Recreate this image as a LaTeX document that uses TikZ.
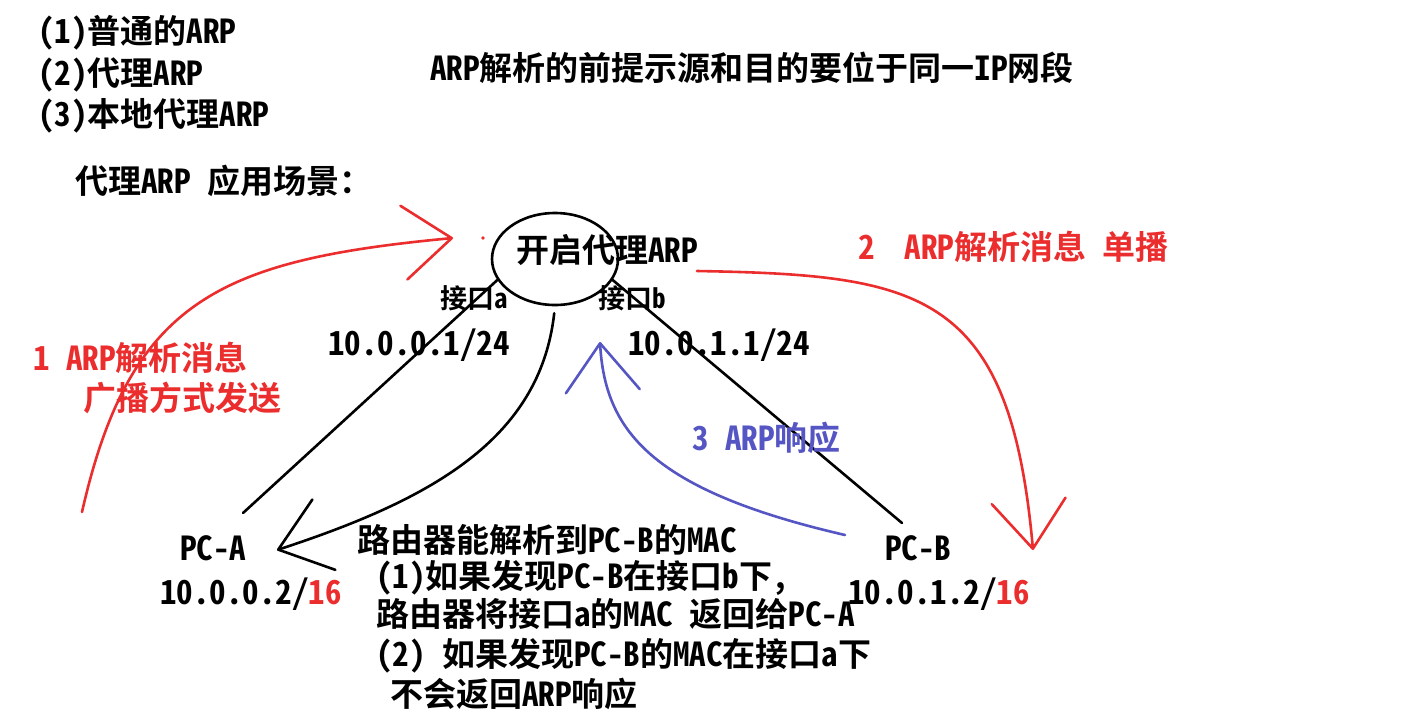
\documentclass[tikz,border=0pt]{standalone}
\usepackage{fontspec}
\setmainfont{Noto Sans CJK SC}[BoldFont={* Bold}, RawFeature=+hwid]
\usetikzlibrary{arrows.meta,shapes.geometric}
\definecolor{arpred}{RGB}{235,45,45}
\definecolor{arpblue}{RGB}{85,85,195}

\begin{document}
\begin{tikzpicture}[
    x=1pt,
    y=-1pt,
    txt/.style={anchor=west, inner sep=0pt, font=\fontsize{33}{38}\selectfont\bfseries},
    small/.style={anchor=west, inner sep=0pt, font=\fontsize{27}{32}\selectfont\bfseries},
    link/.style={line width=2.6pt, line cap=round},
    barb/.style={-{Straight Barb[length=48pt,width=74pt,round]}}
]
\fill[white] (0,0) rectangle (1404,726);
\useasboundingbox (0,0) rectangle (1404,726);

% Kinds of ARP
\foreach \i/\y/\t in {1/33/{(1)普通的ARP}, 2/75/{(2)代理ARP}, 3/116/{(3)本地代理ARP}}
    \node[txt] (kind\i) at (38,\y) {\t};
\node[txt] (scene) at (75,181) {代理ARP 应用场景：};
\node[txt] (premise) at (430,68) {ARP解析的前提示源和目的要位于同一IP网段};

% Router
\node[draw, ellipse, line width=2.6pt, minimum width=126pt, minimum height=92pt, inner sep=0pt] (rtr) at (555,259) {};
\node[txt] (rtrname) at (516,250) {开启代理ARP};
\fill[arpred] (483,238) circle (1.8);
\node[small] (ifa) at (440,298) {接口a};
\node[small] (ifb) at (598,298) {接口b};
\node[txt] (ipa) at (328,345) {10.0.0.1/24};
\node[txt] (ipb) at (628,345) {10.0.1.1/24};

% Hosts
\node[txt] (pca) at (180,548) {PC-A};
\node[txt] (pcb) at (885,548) {PC-B};
\node[txt] (ipc) at (160,594) {10.0.0.2/\textcolor{arpred}{16}};
\node[txt] (ipd) at (848,594) {10.0.1.2/\textcolor{arpred}{16}};

% Links
\coordinate (pcaEnd) at (243,513);
\coordinate (pcbEnd) at (902,523);
\draw[link] (rtr.200) -- (pcaEnd);
\draw[link] (rtr.340) -- (pcbEnd);

% Messages
\coordinate (bcStart) at (82,512);
\coordinate (bcTip) at (453,238);
\coordinate (ucStart) at (697,271);
\coordinate (ucTip) at (1033,550);
\coordinate (pcbFoot) at (845,535);
\coordinate (ifbTip) at (600,342);
\coordinate (pcaTip) at (277,550);
\draw[link, arpred, barb] (bcStart) .. controls (130,300) and (220,260) .. (bcTip);
\draw[link, arpred, barb] (ucStart) .. controls (920,275) and (1010,290) .. (ucTip);
\draw[link, arpblue, barb] (pcbFoot) .. controls (650,490) and (605,430) .. (ifbTip);
\draw[link, barb, shorten <=7pt] (rtr.south) .. controls (540,440) and (430,500) .. (pcaTip);

\node[txt, text=arpred] (bcast1) at (33,358) {1 ARP解析消息};
\node[txt, text=arpred] (bcast2) at (83,398) {广播方式发送};
\node[txt, text=arpred] (ucast) at (858,247) {2\hspace{30pt}ARP解析消息\hspace{16pt}单播};
\node[txt, text=arpblue] (reply) at (692,438) {3 ARP响应};

% Notes
\foreach \i/\x/\y/\t in {
    1/357/540/{路由器能解析到PC-B的MAC},
    2/376/578/{(1)如果发现PC-B在接口b下，},
    3/376/614/{路由器将接口a的MAC 返回给PC-A},
    4/376/656/{(2) 如果发现PC-B的MAC在接口a下},
    5/390/694/{不会返回ARP响应}
} {
    \node[txt] (note\i) at (\x,\y) {\t};
}

\end{tikzpicture}
\end{document}
